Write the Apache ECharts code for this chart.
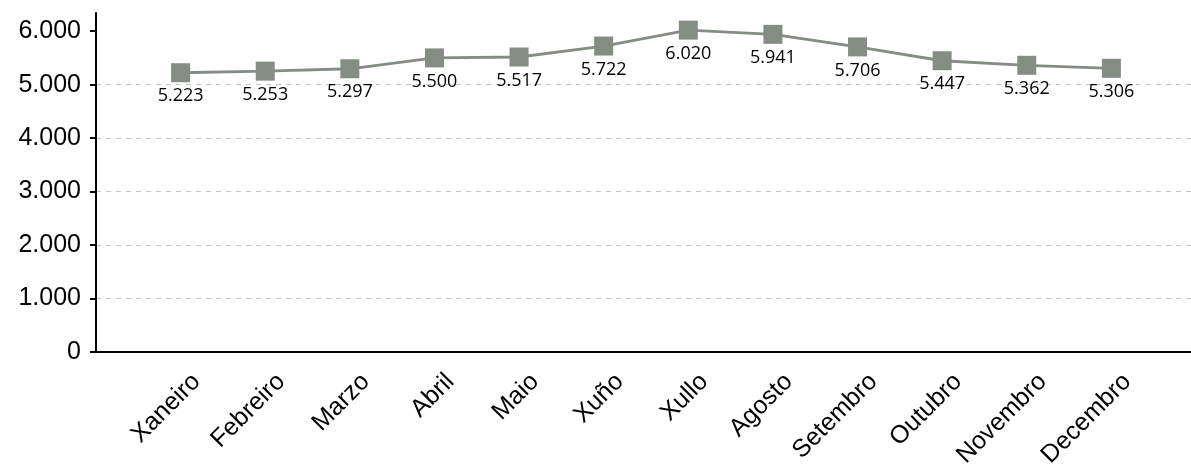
<!DOCTYPE html>
<html><head><meta charset="utf-8">
<script src="https://cdn.jsdelivr.net/npm/echarts@6/dist/echarts.min.js"></script>
<style>html,body{margin:0;padding:0;background:#fff}#c{width:1191px;height:466px}</style>
</head><body><div id="c"></div>
<script>
const categories = ['Xaneiro','Febreiro','Marzo','Abril','Maio','Xuño','Xullo','Agosto','Setembro','Outubro','Novembro','Decembro'];
const values = [5223, 5253, 5297, 5500, 5517, 5722, 6020, 5941, 5706, 5447, 5362, 5306];
const yTicks = [0, 1000, 2000, 3000, 4000, 5000, 6000];

function fmt(v){ return String(v).replace(/\B(?=(\d{3})+(?!\d))/g, '.'); }

const chart = echarts.init(document.getElementById('c'));
chart.setOption({
  animation:false,
  grid:{left:96, right:-5, top:13, bottom:114, containLabel:false, outerBoundsMode:'none'},
  xAxis:{
    type:'value', min:-1, max:12, interval:1,
    axisLine:{show:true, onZero:false, lineStyle:{color:'#000', width:2}},
    axisTick:{show:false},
    splitLine:{show:false},
    axisLabel:{
      rotate:45, fontFamily:'Liberation Sans', fontSize:25, color:'#000', margin:10,
      verticalAlign:'top', padding:[10,0,0,0],
      showMinLabel:false, showMaxLabel:false,
      formatter:function(v){ return (Number.isInteger(v) && v>=0 && v<categories.length) ? categories[v] : ''; }
    }
  },
  yAxis:{
    type:'value', min:0, max:6340, interval:1000,
    axisLine:{show:true, onZero:false, lineStyle:{color:'#000', width:2}},
    axisTick:{show:true, length:6, lineStyle:{color:'#000', width:2}, customValues: yTicks},
    axisLabel:{fontFamily:'Liberation Sans', fontSize:25, color:'#000', margin:15, customValues: yTicks,
      formatter:function(v){ return fmt(v); }},
    splitLine:{show:true, showMaxLine:false, lineStyle:{color:'#c4c4c4', type:[5,5], width:1}}
  },
  series:[{
    type:'line',
    data: values.map((v,i)=>[i,v]),
    symbol:'rect', symbolSize:19,
    itemStyle:{color:'#848c84'},
    lineStyle:{color:'#848c84', width:2.8},
    label:{show:true, position:'bottom', distance:5, fontFamily:'Open Sans', fontSize:18, color:'#000',
      formatter:function(p){ return fmt(p.value[1]); }}
  }]
});
</script></body></html>
